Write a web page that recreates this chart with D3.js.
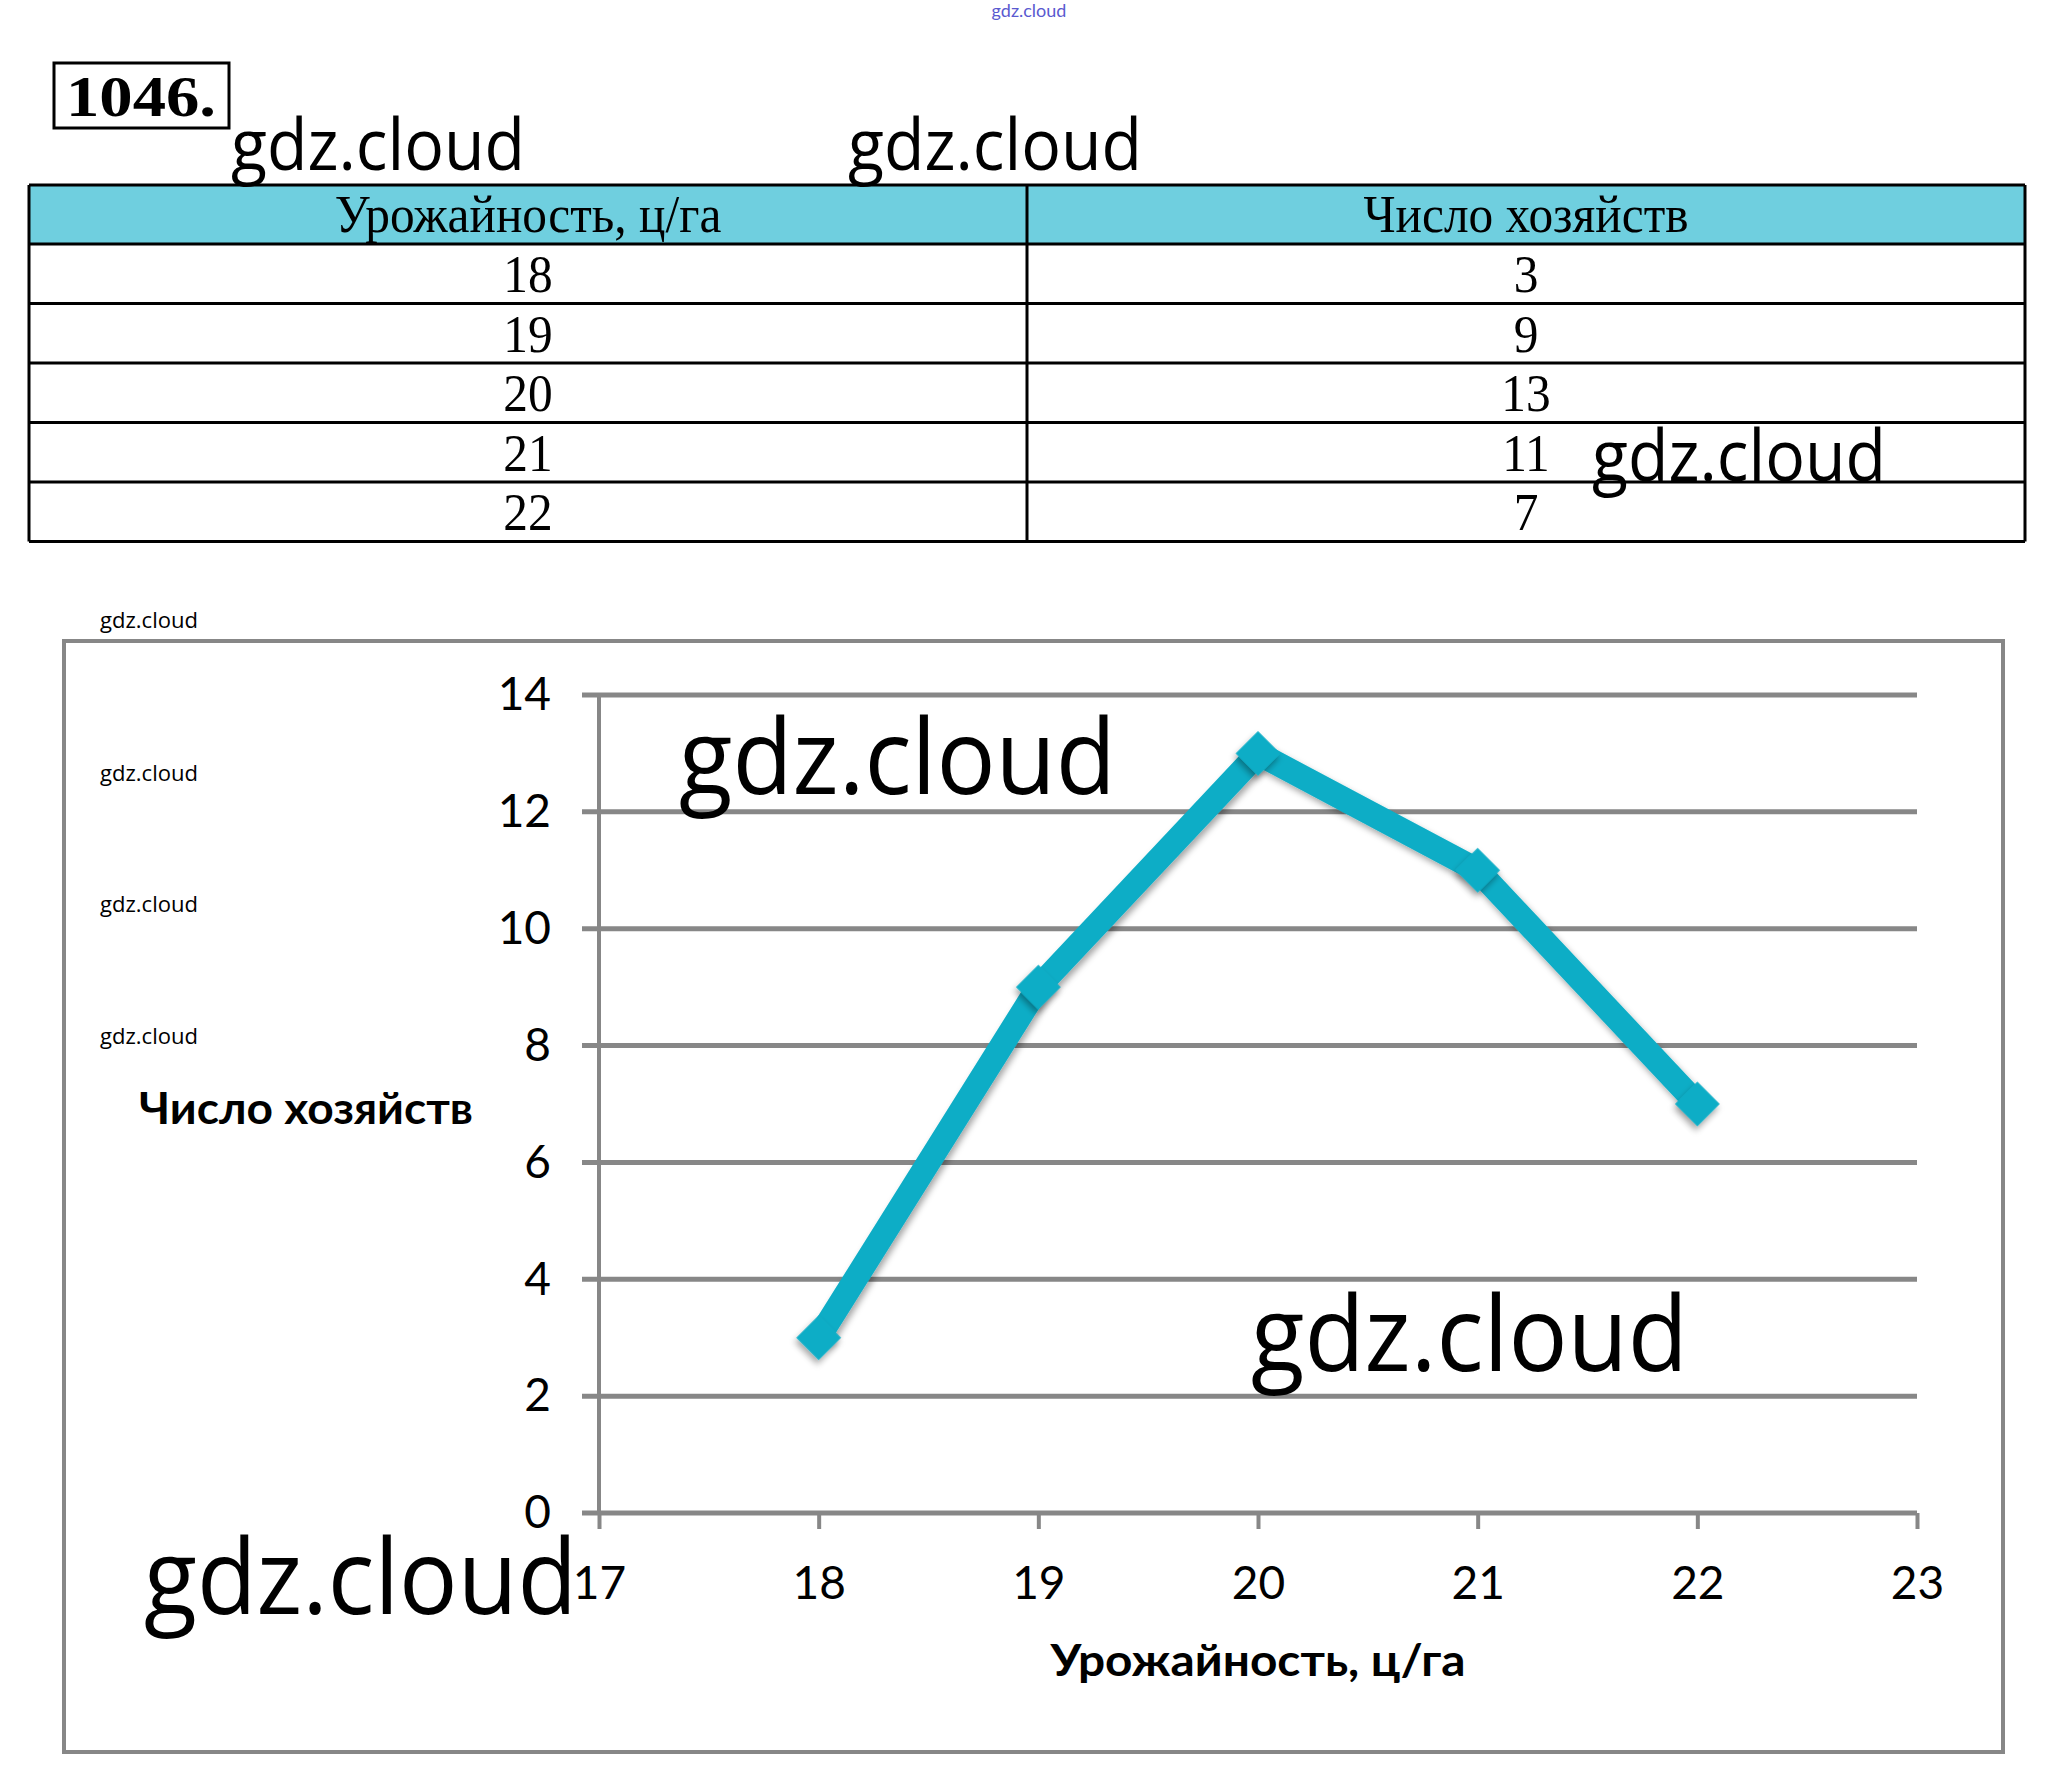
<!DOCTYPE html>
<html>
<head>
<meta charset="utf-8">
<script src="https://cdn.jsdelivr.net/npm/d3@7"></script>
<style>
	body { margin: 0; background: #fff; }
	svg { display: block; }
</style>
</head>
<body>
<svg></svg>
<script>
// данные задачи 1046
let yields = [18, 19, 20, 21, 22];
let farms = [3, 9, 13, 11, 7];
let xTicks = [17, 18, 19, 20, 21, 22, 23];
let yTicks = [0, 2, 4, 6, 8, 10, 12, 14];
let headers = ["Урожайность, ц/га", "Число хозяйств"];
let xTitle = "Урожайность,  ц/га";
let yTitle = "Число  хозяйств";

let svgWidth = 2059;
let svgHeight = 1773;
let svg = d3.select("svg").attr("width", svgWidth).attr("height", svgHeight);
svg.append("rect").attr("width", svgWidth).attr("height", svgHeight).attr("fill", "#fff");

let sans = "Lato, 'Noto Sans', sans-serif";
let serif = "'Liberation Serif', 'DejaVu Serif', serif";
let lineColor = "#0aadc6";
let gridColor = "#878787";

// маленькая метка сверху
svg.append("text")
	.attr("x", 1029).attr("y", 17)
	.attr("text-anchor", "middle")
	.attr("font-family", sans).attr("font-size", 18)
	.attr("fill", "#5a5ad0")
	.text("gdz.cloud");

// номер задачи
svg.append("rect")
	.attr("x", 54).attr("y", 63).attr("width", 175).attr("height", 65)
	.attr("fill", "none").attr("stroke", "#000").attr("stroke-width", 3);
svg.append("text")
	.attr("x", 66).attr("y", 116)
	.attr("font-family", serif).attr("font-weight", "bold").attr("font-size", 58)
	.attr("textLength", 150).attr("lengthAdjust", "spacingAndGlyphs")
	.text("1046.");

//Таблица
let table = {left: 29, right: 2025, top: 185, header: 59, row: 59.5, divider: 1027};
let tbl = svg.append("g");
tbl.append("rect")
	.attr("x", table.left).attr("y", table.top)
	.attr("width", table.right - table.left).attr("height", table.header)
	.attr("fill", "#6fcfdf");
let rowY = yields.map(function(d, i) {return table.top + table.header + i * table.row;});
let tableBottom = table.top + table.header + yields.length * table.row;
tbl.selectAll(".row-line")
	.data([table.top].concat(rowY, [tableBottom]))
	.enter().append("line")
		.attr("x1", table.left).attr("x2", table.right)
		.attr("y1", function(d) {return d;}).attr("y2", function(d) {return d;})
		.attr("stroke", "#000").attr("stroke-width", 3);
[table.left, table.divider, table.right].forEach(function(x) {
	tbl.append("line")
		.attr("x1", x).attr("x2", x)
		.attr("y1", table.top).attr("y2", tableBottom)
		.attr("stroke", "#000").attr("stroke-width", 3);
});
let colCenter = [(table.left + table.divider) / 2, (table.divider + table.right) / 2];
tbl.selectAll(".head")
	.data(headers)
	.enter().append("text")
		.attr("transform", function(d, i) {return "translate(" + colCenter[i] + "," + (table.top + 47) + ") scale(0.95,1)";})
		.attr("text-anchor", "middle")
		.attr("font-family", serif).attr("font-size", 52)
		.text(function(d) {return d;});
let cells = [];
yields.forEach(function(d, i) {
	cells.push({col: 0, row: i, text: d});
	cells.push({col: 1, row: i, text: farms[i]});
});
tbl.selectAll(".cell")
	.data(cells)
	.enter().append("text")
		.attr("transform", function(d) {return "translate(" + colCenter[d.col] + "," + (rowY[d.row] + 48) + ") scale(0.95,1)";})
		.attr("text-anchor", "middle")
		.attr("font-family", serif).attr("font-size", 52)
		.text(function(d) {return d.text;});

//Рамка диаграммы
svg.append("rect")
	.attr("x", 64).attr("y", 641).attr("width", 1939).attr("height", 1111)
	.attr("fill", "none").attr("stroke", gridColor).attr("stroke-width", 4);

let xscale = d3.scaleLinear().domain([17, 23]).range([599, 1917]);
let yscale = d3.scaleLinear().domain([0, 14]).range([1513, 695]);

//Сетка
let canvas = svg.append("g");
canvas.selectAll(".grid")
	.data(yTicks)
	.enter().append("line")
		.attr("x1", xscale(17) - 17).attr("x2", xscale(23))
		.attr("y1", function(d) {return yscale(d);}).attr("y2", function(d) {return yscale(d);})
		.attr("stroke", gridColor).attr("stroke-width", 5);
canvas.append("line")
	.attr("x1", xscale(17)).attr("x2", xscale(17))
	.attr("y1", yscale(14)).attr("y2", yscale(0))
	.attr("stroke", gridColor).attr("stroke-width", 4);

//x-Achse
let xaxis = d3.axisBottom(xscale)
	.tickValues(xTicks)
	.tickSize(16)
	.tickPadding(37)
	.tickFormat(d3.format("d"));
let gx = canvas.append("g")
	.attr("transform", "translate(0," + yscale(0) + ")")
	.call(xaxis);
gx.select(".domain").remove();
gx.selectAll("line").attr("stroke", gridColor).attr("stroke-width", 4);
gx.selectAll("text").attr("font-family", sans).attr("font-size", 46).attr("fill", "#000");

//y-Achse
let yaxis = d3.axisLeft(yscale)
	.tickValues(yTicks)
	.tickSize(0)
	.tickPadding(48);
let gy = canvas.append("g")
	.attr("transform", "translate(" + xscale(17) + ",0)")
	.call(yaxis);
gy.select(".domain").remove();
gy.selectAll("text").attr("font-family", sans).attr("font-size", 46).attr("fill", "#000");

//Achsenbeschriftungen
canvas.append("text")
	.attr("x", 1258).attr("y", 1676)
	.attr("text-anchor", "middle")
	.attr("font-family", sans).attr("font-weight", "bold").attr("font-size", 44)
	.attr("textLength", 415).attr("lengthAdjust", "spacingAndGlyphs")
	.text(xTitle);
canvas.append("text")
	.attr("x", 306).attr("y", 1124)
	.attr("text-anchor", "middle")
	.attr("font-family", sans).attr("font-weight", "bold").attr("font-size", 44)
	.attr("textLength", 334).attr("lengthAdjust", "spacingAndGlyphs")
	.text(yTitle);

//Linie und Marker
let defs = svg.append("defs");
let shadow = defs.append("filter").attr("id", "shadow").attr("x", "-50%").attr("y", "-50%").attr("width", "200%").attr("height", "200%");
shadow.append("feDropShadow").attr("dx", 2).attr("dy", 4).attr("stdDeviation", 3).attr("flood-color", "#000").attr("flood-opacity", 0.35);

let points = yields.map(function(d, i) {return {x: d, y: farms[i]};});
let line = d3.line()
	.x(function(d) {return xscale(d.x);})
	.y(function(d) {return yscale(d.y);});
canvas.append("path")
	.datum(points)
	.attr("d", line)
	.attr("fill", "none")
	.attr("stroke", lineColor)
	.attr("stroke-width", 24)
	.attr("stroke-linejoin", "miter")
	.attr("filter", "url(#shadow)");
canvas.selectAll(".datapoint")
	.data(points)
	.enter().append("path")
		.attr("class", "datapoint")
		.attr("d", d3.symbol().type(d3.symbolSquare).size(1000))
		.attr("transform", function(d) {return "translate(" + xscale(d.x) + "," + yscale(d.y) + ") rotate(45)";})
		.attr("fill", lineColor)
		.attr("filter", "url(#shadow)");

//Wasserzeichen
let marks = [
	{x: 231, y: 170, w: 294, size: 72},
	{x: 848, y: 170, w: 294, size: 72},
	{x: 1592, y: 481, w: 294, size: 72},
	{x: 679, y: 794, w: 437, size: 104},
	{x: 1251, y: 1371, w: 437, size: 104},
	{x: 144, y: 1614, w: 433, size: 104}
];
svg.selectAll(".mark")
	.data(marks)
	.enter().append("text")
		.attr("x", function(d) {return d.x;})
		.attr("y", function(d) {return d.y;})
		.attr("font-family", "'Open Sans', sans-serif")
		.attr("font-size", function(d) {return d.size;})
		.attr("textLength", function(d) {return d.w;})
		.attr("lengthAdjust", "spacingAndGlyphs")
		.attr("fill", "#000")
		.text("gdz.cloud");
let smallMarks = [628, 781, 912, 1044];
svg.selectAll(".small-mark")
	.data(smallMarks)
	.enter().append("text")
		.attr("x", 100)
		.attr("y", function(d) {return d;})
		.attr("font-family", "'Open Sans', sans-serif")
		.attr("font-size", 22)
		.attr("textLength", 98)
		.attr("lengthAdjust", "spacingAndGlyphs")
		.text("gdz.cloud");
</script>
</body>
</html>
